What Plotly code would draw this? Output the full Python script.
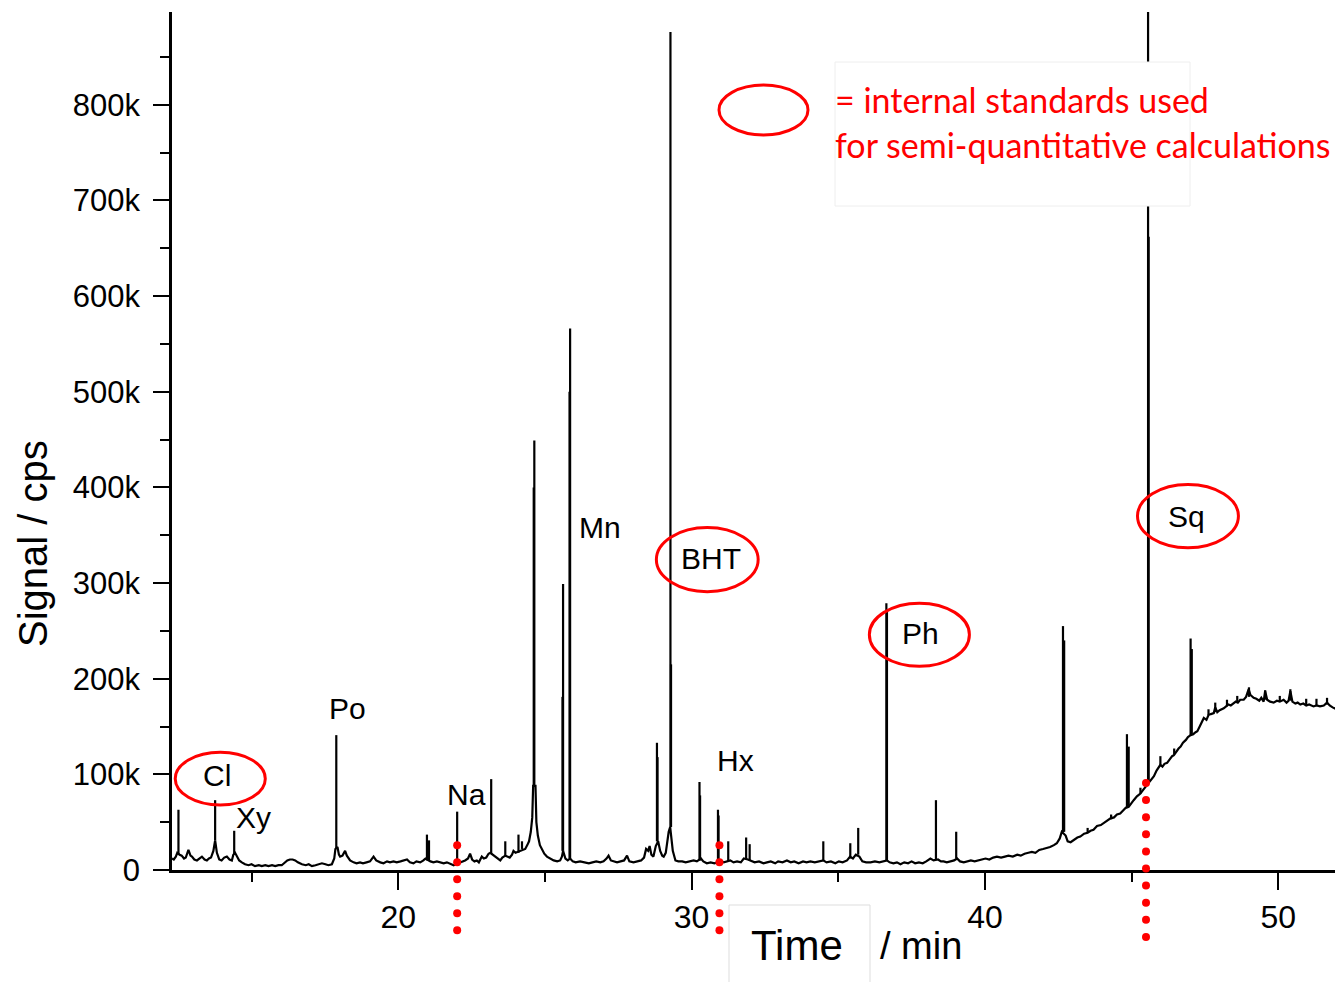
import numpy as np
import plotly.graph_objects as go

# ---------------- data (signal in kcps, time in min) ----------------
baseline_t = [12.29, 12.35, 12.42, 12.47, 12.55, 12.62, 12.70, 12.76, 12.85, 12.92, 12.97, 13.05, 13.14, 13.22,
              13.31, 13.40, 13.48, 13.55, 13.62, 13.70, 13.76, 13.82, 13.90, 13.98, 14.07, 14.16, 14.25, 14.33,
              14.38, 14.44, 14.50, 14.58, 14.67, 14.78, 14.90, 15.00, 15.12, 15.25, 15.35, 15.47, 15.58, 15.70,
              15.81, 15.92, 16.03, 16.12, 16.22, 16.31, 16.40, 16.49, 16.58, 16.72, 16.85, 16.95, 17.06, 17.18,
              17.30, 17.40, 17.52, 17.62, 17.74, 17.82, 17.86, 17.93, 17.98, 18.02, 18.10, 18.19, 18.25, 18.36,
              18.48, 18.58, 18.70, 18.80, 18.92, 19.04, 19.16, 19.25, 19.39, 19.50, 19.62, 19.72, 19.84, 19.95,
              20.08, 20.20, 20.30, 20.40, 20.52, 20.62, 20.75, 20.86, 20.93, 21.10, 21.20, 21.32, 21.45, 21.55,
              21.66, 21.78, 21.89, 21.96, 22.05, 22.17, 22.28, 22.38, 22.45, 22.52, 22.60, 22.68, 22.75, 22.85,
              22.92, 23.00, 23.08, 23.14, 23.22, 23.31, 23.40, 23.48, 23.55, 23.65, 23.72, 23.80, 23.88, 23.93,
              24.00, 24.08, 24.16, 24.25, 24.33, 24.40, 24.46, 24.52, 24.57, 24.60, 24.68, 24.71, 24.76, 24.83,
              24.90, 24.98, 25.07, 25.18, 25.30, 25.42, 25.52, 25.58, 25.62, 25.70, 25.78, 25.86, 25.95, 26.05,
              26.20, 26.35, 26.50, 26.62, 26.75, 26.89, 27.00, 27.10, 27.17, 27.25, 27.35, 27.46, 27.58, 27.70,
              27.80, 27.88, 28.02, 28.15, 28.28, 28.38, 28.45, 28.52, 28.57, 28.63, 28.70, 28.78, 28.86, 28.93,
              29.00, 29.05, 29.12, 29.22, 29.27, 29.36, 29.45, 29.55, 29.68, 29.80, 29.92, 30.07, 30.18, 30.32,
              30.40, 30.52, 30.65, 30.78, 30.88, 30.98, 31.10, 31.20, 31.32, 31.43, 31.55, 31.68, 31.78, 31.92,
              32.05, 32.15, 32.30, 32.45, 32.57, 32.70, 32.85, 32.95, 33.10, 33.25, 33.38, 33.50, 33.65, 33.80,
              33.92, 34.05, 34.20, 34.35, 34.49, 34.60, 34.75, 34.90, 35.02, 35.15, 35.30, 35.40, 35.50, 35.60,
              35.72, 35.82, 35.95, 36.10, 36.25, 36.40, 36.55, 36.66, 36.75, 36.88, 37.00, 37.12, 37.25, 37.38,
              37.50, 37.62, 37.75, 37.88, 38.00, 38.14, 38.25, 38.40, 38.50, 38.59, 38.70, 38.82, 38.95, 39.05,
              39.15, 39.28, 39.39, 39.52, 39.65, 39.78, 39.90, 40.02, 40.15, 40.28, 40.41, 40.55, 40.68, 40.80,
              40.95, 41.10, 41.22, 41.35, 41.48, 41.60, 41.72, 41.85, 41.98, 42.10, 42.22, 42.35, 42.45, 42.55,
              42.62, 42.75, 42.82, 42.92, 43.05, 43.15, 43.25, 43.38, 43.50, 43.60, 43.70, 43.82, 43.95, 44.05,
              44.16, 44.28, 44.40, 44.50, 44.61, 44.72, 44.80, 44.90, 45.00, 45.07, 45.18, 45.30, 45.40, 45.48,
              45.53, 45.62, 45.70, 45.76, 45.85, 45.92, 45.98, 46.05, 46.12, 46.21, 46.30, 46.38, 46.44, 46.52,
              46.60, 46.67, 46.75, 46.85, 46.92, 47.01, 47.10, 47.18, 47.24, 47.32, 47.40, 47.46, 47.55, 47.62,
              47.70, 47.80, 47.85, 47.92, 48.00, 48.08, 48.14, 48.22, 48.30, 48.38, 48.48, 48.55, 48.62, 48.70,
              48.82, 48.90, 48.99, 49.05, 49.16, 49.25, 49.35, 49.42, 49.50, 49.55, 49.62, 49.72, 49.84, 49.95,
              50.05, 50.18, 50.28, 50.35, 50.41, 50.48, 50.58, 50.66, 50.75, 50.85, 50.95, 51.05, 51.20, 51.30,
              51.42, 51.55, 51.66, 51.75, 51.85, 51.95, 52.00]
baseline_k = [12, 11, 14, 18, 16, 15, 12, 13, 21, 15, 14, 11, 10, 12,
              14, 11, 10, 12, 13, 20, 31, 18, 11, 10, 13, 14, 11, 10,
              16, 18, 14, 10, 8, 6, 5, 6, 4, 5, 4, 5, 4, 5,
              4, 5, 5, 7, 10, 11, 11, 10, 8, 6, 5, 6, 4, 5,
              6, 7, 6, 5, 6, 12, 22, 24, 16, 14, 15, 20, 15, 10,
              8, 7, 8, 7, 8, 9, 14, 10, 8, 7, 9, 8, 9, 8,
              9, 10, 11, 8, 7, 9, 8, 10, 12, 9, 8, 9, 8, 7,
              8, 6, 5, 6, 7, 8, 10, 12, 17, 11, 9, 10, 8, 14,
              12, 13, 17, 18, 16, 14, 12, 10, 13, 15, 14, 13, 16, 20,
              18, 19, 20, 21, 22, 26, 30, 40, 55, 88, 88, 50, 36, 26,
              21, 17, 14, 12, 10, 9, 10, 14, 20, 12, 10, 12, 9, 8,
              9, 8, 7, 8, 9, 8, 9, 12, 15, 10, 9, 8, 9, 10,
              15, 9, 8, 9, 10, 13, 22, 20, 25, 16, 14, 25, 30, 20,
              15, 14, 18, 40, 45, 20, 10, 9, 9, 8, 9, 10, 9, 12,
              9, 7, 8, 7, 8, 10, 8, 9, 10, 8, 9, 8, 12, 11,
              9, 8, 9, 7, 8, 9, 7, 9, 8, 10, 8, 9, 7, 9,
              8, 9, 8, 9, 10, 8, 9, 7, 9, 8, 10, 14, 12, 16,
              14, 9, 8, 8, 9, 8, 9, 10, 8, 7, 8, 6, 8, 7,
              9, 7, 8, 7, 9, 12, 10, 11, 9, 9, 8, 9, 10, 12,
              9, 8, 9, 10, 9, 10, 11, 12, 11, 13, 14, 13, 14, 15,
              14, 16, 15, 17, 18, 19, 18, 21, 22, 23, 24, 26, 28, 33,
              40, 36, 30, 29, 32, 34, 35, 38, 39, 41, 42, 46, 47, 49,
              51, 54, 55, 58, 59, 62, 65, 66, 71, 73, 77, 80, 84, 87,
              89, 93, 96, 98, 104, 108, 110, 108, 111, 112, 116, 119, 120, 124,
              127, 129, 133, 136, 139, 141, 142, 144, 145, 150, 156, 159, 157, 162,
              163, 164, 170, 165, 167, 168, 169, 171, 173, 172, 175, 176, 175, 178,
              178, 181, 189, 183, 180, 179, 177, 180, 176, 187, 178, 176, 175, 177,
              176, 178, 175, 177, 187, 176, 174, 175, 173, 174, 172, 173, 171, 172,
              171, 172, 175, 172, 170, 169, 168]

# sharp peaks: retention time, foot level, apex level (kcps)
peak_t = [12.51, 13.76, 14.41, 17.89, 20.98, 21.05, 22.01, 23.17, 23.65, 24.10, 24.22,
          24.64, 24.62, 25.62, 25.60, 25.86, 25.84, 28.82, 28.84, 29.28, 29.30,
          30.27, 30.29, 30.90, 30.92, 31.25, 31.86, 31.98, 34.49, 35.41, 35.68,
          36.64, 36.66, 38.33, 39.02, 42.66, 42.70, 42.68, 44.84, 44.90,
          45.56, 45.58, 47.01, 47.05,
          43.50, 44.30, 45.30, 45.98, 46.45, 47.62, 47.85, 48.25, 48.60, 49.00, 49.55,
          50.05, 50.41, 50.95, 51.30, 51.66]
peak_foot_k = [16, 31, 16, 22, 10, 10, 6, 17, 14, 18, 22,
               88, 88, 20, 20, 12, 12, 30, 30, 45, 45,
               10, 10, 8, 8, 9, 11, 10, 10, 12, 16,
               10, 10, 11, 12, 40, 40, 40, 65, 66,
               92, 92, 141, 142,
               39, 53, 80, 110, 121, 162, 165, 171, 175, 181, 178,
               176, 177, 172, 172, 173]
peak_top_k = [63, 73, 41, 141, 37, 31, 61, 95, 30, 37, 30,
              449, 400, 299, 181, 566, 500, 133, 118, 876, 215,
              92, 78, 63, 57, 30, 34, 27, 30, 28, 44,
              279, 270, 73, 40, 255, 240, 165, 142, 129,
              1100, 662, 242, 231,
              44, 58, 86, 119, 127, 168, 175, 178, 182, 191, 188,
              182, 189, 179, 179, 180]

# compound labels
label_text = ["Cl", "Xy", "Po", "Na", "Mn", "BHT", "Hx", "Ph", "Sq"]
label_t = [13.83, 15.06, 18.26, 22.32, 26.89, 30.67, 31.49, 37.80, 46.87]
label_k = [99, 55, 169, 79, 358, 326, 114, 247, 370]

# internal standards (circled): time span and signal span of each ellipse
circle_t0 = [12.40, 28.80, 36.06, 45.20]
circle_t1 = [15.47, 32.27, 39.47, 48.64]
circle_k0 = [68, 291, 213, 337]
circle_k1 = [123, 358, 279, 403]

# red dotted guides
guide_t = [22.01, 30.95, 45.49]
guide_top_k = [26, 26, 91]
guide_bottom_k = [-63, -63, -70]
guide_dots = [6, 6, 10]

y_tickvals = [0, 100, 200, 300, 400, 500, 600, 700, 800]
y_ticktext = ["0", "100k", "200k", "300k", "400k", "500k", "600k", "700k", "800k"]
x_tickvals = [20, 30, 40, 50]
X_RANGE = [12.29, 52.0]
Y_RANGE = [0, 897]

# ---------------- figure geometry (screen pixels) ----------------
OFF = 8                      # page body margin
WIN_W, WIN_H = 1343, 982
PL, PR, PT, PB = 172, 1337, 12, 870   # plot area on screen
W, H = WIN_W - OFF, WIN_H - OFF
ML, MT = PL - OFF, PT - OFF
MR = W + OFF - PR
MB = H + OFF - PB
PW, PH = PR - PL, PB - PT


def px_x(p):
    return (p - PL) / PW


def px_y(p):
    return (PB - p) / PH


def t_to_paper(t):
    return (t - X_RANGE[0]) / (X_RANGE[1] - X_RANGE[0])


def k_to_paper(k):
    return (k - Y_RANGE[0]) / (Y_RANGE[1] - Y_RANGE[0])


fig = go.Figure()

fig.add_trace(go.Scatter(x=baseline_t, y=baseline_k, mode="lines",
                         line=dict(color="black", width=2.2), hoverinfo="skip"))

sx, sy = [], []
for t, f, top in zip(peak_t, peak_foot_k, peak_top_k):
    sx += [t, t, None]
    sy += [f, top, None]
fig.add_trace(go.Scatter(x=sx, y=sy, mode="lines", line=dict(color="black", width=2.2),
                         hoverinfo="skip"))

shapes = []
# red dots of the guides (paper coords so they may go below the axis)
rdx, rdy = 4.0 / PW, 4.0 / PH
for t, a, b, n in zip(guide_t, guide_top_k, guide_bottom_k, guide_dots):
    xp = t_to_paper(t)
    for k in np.linspace(a, b, n):
        yp = k_to_paper(k)
        shapes.append(dict(type="circle", xref="paper", yref="paper",
                           x0=xp - rdx, x1=xp + rdx, y0=yp - rdy, y1=yp + rdy,
                           fillcolor="#ff0000", line=dict(width=0), layer="above"))

for a, b, c, d in zip(circle_t0, circle_t1, circle_k0, circle_k1):
    shapes.append(dict(type="circle", xref="x", yref="y", x0=a, x1=b, y0=c, y1=d,
                       line=dict(color="#ff0000", width=3), layer="above"))

# legend box + ellipse
shapes.append(dict(type="rect", xref="paper", yref="paper",
                   x0=px_x(835), x1=px_x(1190), y0=px_y(206), y1=px_y(62),
                   fillcolor="white", line=dict(color="#eeeeee", width=1), layer="above"))
shapes.append(dict(type="circle", xref="paper", yref="paper",
                   x0=px_x(719), x1=px_x(808), y0=px_y(135), y1=px_y(85),
                   line=dict(color="#ff0000", width=3), layer="above"))
# box around "Time"
shapes.append(dict(type="rect", xref="paper", yref="paper",
                   x0=px_x(729), x1=px_x(870), y0=px_y(990), y1=px_y(905),
                   fillcolor="white", line=dict(color="#dddddd", width=1), layer="above"))

annotations = []
for txt, t, k in zip(label_text, label_t, label_k):
    annotations.append(dict(x=t, y=k, xref="x", yref="y", text=txt, showarrow=False,
                            font=dict(family="Liberation Sans, Arial", size=30, color="black"),
                            xanchor="center", yanchor="middle"))

annotations.append(dict(x=px_x(833), y=px_y(100), xref="paper", yref="paper",
                        text="= internal standards used", showarrow=False,
                        xanchor="left", yanchor="middle",
                        font=dict(family="Lato, Open Sans", size=34, color="#ff0000")))
annotations.append(dict(x=px_x(833), y=px_y(144), xref="paper", yref="paper",
                        text="for semi-quantitative calculations", showarrow=False,
                        xanchor="left", yanchor="middle",
                        font=dict(family="Lato, Open Sans", size=34, color="#ff0000")))

annotations.append(dict(x=px_x(33), y=px_y(544), xref="paper", yref="paper",
                        text="Signal / cps", showarrow=False, textangle=-90,
                        xanchor="center", yanchor="middle",
                        font=dict(family="Liberation Sans, Arial", size=40, color="black")))
annotations.append(dict(x=px_x(797), y=px_y(946), xref="paper", yref="paper",
                        text="Time", showarrow=False, xanchor="center", yanchor="middle",
                        font=dict(family="Liberation Sans, Arial", size=42, color="black")))
annotations.append(dict(x=px_x(921), y=px_y(946), xref="paper", yref="paper",
                        text="/ min", showarrow=False, xanchor="center", yanchor="middle",
                        font=dict(family="Liberation Sans, Arial", size=38, color="black")))

fig.update_layout(
    width=W, height=H,
    margin=dict(l=ML, r=MR, t=MT, b=MB, pad=0),
    paper_bgcolor="white", plot_bgcolor="white",
    showlegend=False,
    shapes=shapes,
    annotations=annotations,
    xaxis=dict(range=X_RANGE, showgrid=False, zeroline=False,
               showline=True, linecolor="black", linewidth=2.8,
               ticks="outside", ticklen=17, tickwidth=2.2, tickcolor="black",
               tickvals=x_tickvals, ticklabelstandoff=0,
               tickfont=dict(family="Liberation Sans, Arial", size=32, color="black"),
               minor=dict(tickvals=[15, 25, 35, 45], ticks="outside", ticklen=9,
                          tickwidth=2.2, tickcolor="black", showgrid=False)),
    yaxis=dict(range=Y_RANGE, showgrid=False, zeroline=False,
               showline=True, linecolor="black", linewidth=2.8,
               ticks="outside", ticklen=16, tickwidth=2.2, tickcolor="black",
               tickvals=y_tickvals, ticktext=y_ticktext,
               tickfont=dict(family="Liberation Sans, Arial", size=31, color="black"),
               ticklabelstandoff=7,
               minor=dict(tickvals=[50, 150, 250, 350, 450, 550, 650, 750, 850],
                          ticks="outside", ticklen=9, tickwidth=2.2, tickcolor="black",
                          showgrid=False)),
)

fig.write_html("out.html")
